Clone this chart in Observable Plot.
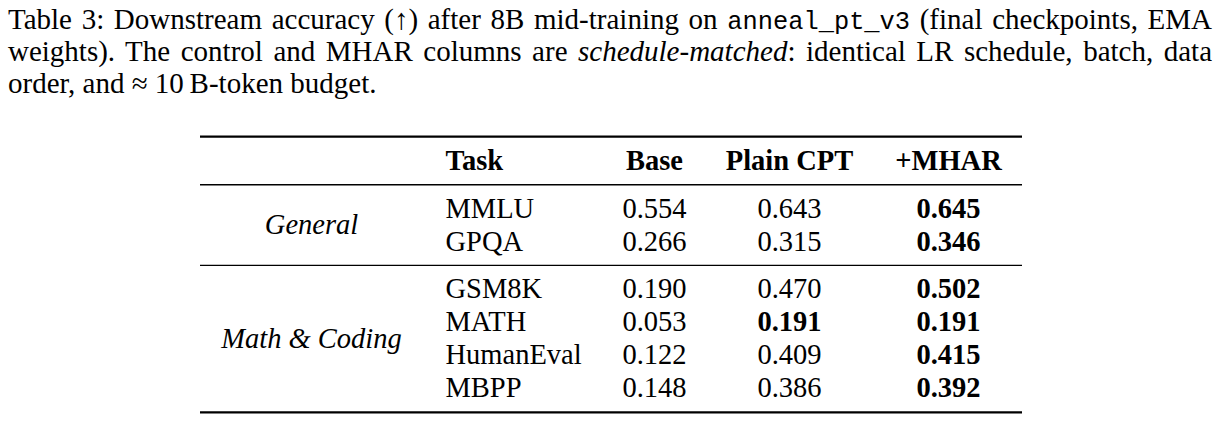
<!DOCTYPE html>
<html><head><meta charset="utf-8">
<script src="https://cdn.jsdelivr.net/npm/d3@7"></script>
<script src="https://cdn.jsdelivr.net/npm/@observablehq/plot@0.6"></script>
<style>
body{margin:0;background:#fff;}
#cap{font-family:"Liberation Serif",serif;font-size:29px;line-height:32px;color:#000;padding:3px 0 0 8px;width:1204px;height:96px;box-sizing:content-box}
#cap div{white-space:nowrap;height:32px}
#cap div.j{text-align:justify;text-align-last:justify;white-space:normal}
.tt{font-family:"Liberation Mono",monospace;font-size:25.4px}
#chart svg{display:block}
</style></head><body>
<div id="cap">
<div class="j">Table 3: Downstream accuracy (↑) after 8B mid-training on <span class="tt">anneal_pt_v3</span> (final checkpoints, EMA</div>
<div class="j">weights). The control and MHAR columns are <i>schedule-matched</i>: identical LR schedule, batch, data</div>
<div>order, and ≈ 10&thinsp;B-token budget.</div>
</div>
<div id="chart"></div>
<script>
// ---- data ----
const groups = ["General", "Math & Coding"];
const tasks = ["MMLU", "GPQA", "GSM8K", "MATH", "HumanEval", "MBPP"];
const taskGroup = ["General", "General", "Math & Coding", "Math & Coding", "Math & Coding", "Math & Coding"];
const headers = ["Task", "Base", "Plain CPT", "+MHAR"];
const base = [0.554, 0.266, 0.190, 0.053, 0.122, 0.148];
const plainCPT = [0.643, 0.315, 0.470, 0.191, 0.409, 0.386];
const mhar = [0.645, 0.346, 0.502, 0.191, 0.415, 0.392];

// ---- layout (not data) ----
const COLX = {group: 311, Task: 445, Base: 654, "Plain CPT": 789, "+MHAR": 948};
const RULE_GAP = 0.72;
const rows = [];
const thinRules = [];
const thickRules = [{y: -0.74}];
let pos = 0;
thinRules.push({y: pos + RULE_GAP});
pos += 2 * RULE_GAP;
const groupRows = [];
groups.forEach((g, gi) => {
  const idx = tasks.map((t, i) => i).filter(i => taskGroup[i] === g);
  const start = pos;
  idx.forEach(i => {
    const best = Math.max(base[i], plainCPT[i], mhar[i]);
    rows.push({task: tasks[i], y: pos, base: base[i], plain: plainCPT[i], mhar: mhar[i], best});
    pos += 1;
  });
  pos -= 1;
  groupRows.push({group: g, y: (start + pos) / 2});
  if (gi < groups.length - 1) {
    thinRules.push({y: pos + RULE_GAP});
    pos += 2 * RULE_GAP;
  } else {
    thickRules.push({y: pos + 0.74});
  }
});

const cells = [];
rows.forEach(r => {
  [["Base", r.base], ["Plain CPT", r.plain], ["+MHAR", r.mhar]].forEach(([c, v]) => {
    cells.push({col: c, y: r.y, text: v.toFixed(3), bold: c !== "Base" && v === r.best});
  });
});

const FONT = "Liberation Serif";
const FS = 28.5;
const INK = "#000";

const chart = Plot.plot({
  width: 1222,
  height: 334,
  marginTop: 0, marginBottom: 0, marginLeft: 200, marginRight: 200,
  style: {fontFamily: FONT, background: "#fff", color: INK},
  x: {type: "linear", domain: [0, 1222], range: [0, 1222], axis: null},
  y: {type: "linear", domain: [0, 1], range: [61.5, 94.5], axis: null},
  marks: [
    Plot.ruleY(thickRules, {y: "y", stroke: "#000", strokeWidth: 2.2}),
    Plot.ruleY(thinRules, {y: "y", stroke: "#000", strokeWidth: 1.3}),
    Plot.text(headers.filter(h => h === "Task"), {x: d => COLX[d], y: () => 0, text: d => d, fontWeight: "bold", fontSize: FS, textAnchor: "start", fill: INK}),
    Plot.text(headers.filter(h => h !== "Task"), {x: d => COLX[d], y: () => 0, text: d => d, fontWeight: "bold", fontSize: FS, textAnchor: "middle", fill: INK}),
    Plot.text(groupRows, {x: () => COLX.group, y: "y", text: "group", fontStyle: "italic", fontSize: FS, textAnchor: "middle", fill: INK}),
    Plot.text(rows, {x: () => COLX.Task, y: "y", text: "task", fontSize: FS, textAnchor: "start", fill: INK}),
    Plot.text(cells.filter(d => !d.bold), {x: d => COLX[d.col], y: "y", text: "text", fontSize: FS, textAnchor: "middle", fill: INK}),
    Plot.text(cells.filter(d => d.bold), {x: d => COLX[d.col], y: "y", text: "text", fontSize: FS, fontWeight: "bold", textAnchor: "middle", fill: INK})
  ]
});
document.getElementById("chart").appendChild(chart);
</script>
</body></html>
